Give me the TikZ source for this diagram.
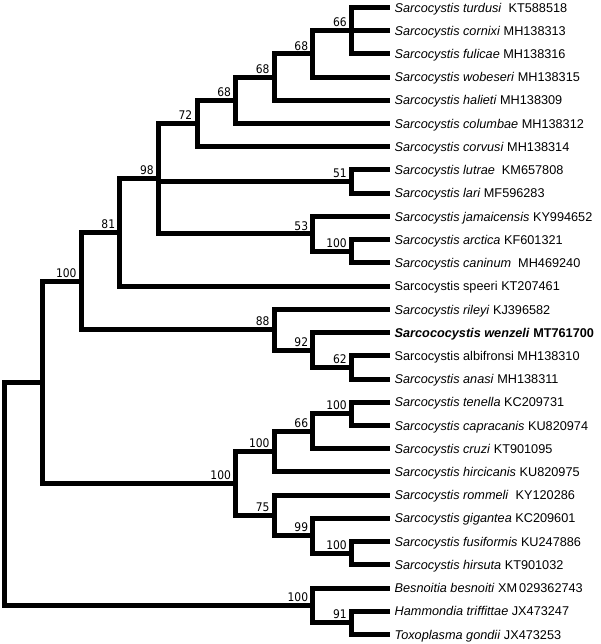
\documentclass[tikz,border=0pt]{standalone}
\usepackage{fontspec}
\setmainfont[Scale=1.27]{Liberation Sans}
\newfontfamily\bsfont[Scale=1.19]{DejaVu Sans Condensed}
\begin{document}
\begin{tikzpicture}[x=1pt,y=-1pt,
  branch/.style={line width=5pt, line cap=butt, line join=miter, black},
  leaf/.style={anchor=base west, inner sep=0pt, font=\normalfont, yshift=-4.6pt},
  bs/.style={anchor=south east, inner sep=0pt, font=\bsfont, xshift=-4.5pt, yshift=3.5pt}]
\useasboundingbox (0,0) rectangle (601,644);
% leaf tips
\foreach \i/\y in {0/7.5,1/30.7,2/53.9,3/77.2,4/100.4,5/123.6,6/146.8,7/170.0,8/193.3,9/216.5,10/239.7,11/262.9,12/286.1,13/309.4,14/332.6,15/355.8,16/379.0,17/402.2,18/425.4,19/448.7,20/471.9,21/495.1,22/518.3,23/541.5,24/564.8,25/588.0,26/611.2,27/634.4}
  \coordinate (t\i) at (390,\y);
% internal nodes
\coordinate (n66) at (351.4,30.7);
\coordinate (n68a) at (312.8,53.95);
\coordinate (n68b) at (274.2,77.2);
\coordinate (n68c) at (235.6,100.4);
\coordinate (n72) at (197,123.6);
\coordinate (n51) at (351.4,181.6);
\coordinate (n100a) at (351.4,251.3);
\coordinate (n53) at (312.8,233.9);
\coordinate (nD) at (158.4,178.8);
\coordinate (nC) at (119.8,232.4);
\coordinate (n62) at (351.4,367.4);
\coordinate (n92) at (312.8,350);
\coordinate (n88) at (274.2,329.7);
\coordinate (nB) at (81.2,281);
\coordinate (n100t) at (351.4,413.8);
\coordinate (n66c) at (312.8,431.2);
\coordinate (n100u) at (274.2,451.5);
\coordinate (n100f) at (351.4,553.1);
\coordinate (n99) at (312.8,535.7);
\coordinate (n75) at (274.2,515.4);
\coordinate (nCy) at (235.6,483.4);
\coordinate (nA) at (42.6,382.2);
\coordinate (n91) at (351.4,622.8);
\coordinate (nOut) at (312.8,605.4);
\coordinate (root) at (4,493.8);
% branches
\foreach \p/\c in {n66/t0,n66/t1,n66/t2,n68a/n66,n68a/t3,n68b/n68a,n68b/t4,n68c/n68b,n68c/t5,n72/n68c,n72/t6,
  n51/t7,n51/t8,n100a/t10,n100a/t11,n53/t9,n53/n100a,nD/n72,nD/n51,nD/n53,nC/nD,nC/t12,
  n62/t15,n62/t16,n92/t14,n92/n62,n88/t13,n88/n92,nB/nC,nB/n88,
  n100t/t17,n100t/t18,n66c/n100t,n66c/t19,n100u/n66c,n100u/t20,n100f/t23,n100f/t24,n99/t22,n99/n100f,
  n75/t21,n75/n99,nCy/n100u,nCy/n75,nA/nB,nA/nCy,n91/t26,n91/t27,nOut/t25,nOut/n91,root/nA,root/nOut}
  \draw[branch] (\p) |- (\c);
% support values
\foreach \n/\v in {n66/66,n68a/68,n68b/68,n68c/68,n72/72,n51/51,n100a/100,n53/53,nD/98,nC/81,n62/62,n92/92,n88/88,nB/100,
  n100t/100,n66c/66,n100u/100,n100f/100,n99/99,n75/75,nCy/100,n91/91,nOut/100}
  \node[bs] (b\n) at (\n) {\v};
% leaf labels
\node[leaf] (l0) at (394.5,7.5) {\textit{Sarcocystis turdusi}\ \ KT588518};
\node[leaf] (l1) at (394.5,30.7) {\textit{Sarcocystis cornixi} MH138313};
\node[leaf] (l2) at (394.5,53.9) {\textit{Sarcocystis fulicae} MH138316};
\node[leaf] (l3) at (394.5,77.2) {\textit{Sarcocystis wobeseri} MH138315};
\node[leaf] (l4) at (394.5,100.4) {\textit{Sarcocystis halieti} MH138309};
\node[leaf] (l5) at (394.5,123.6) {\textit{Sarcocystis columbae} MH138312};
\node[leaf] (l6) at (394.5,146.8) {\textit{Sarcocystis corvusi} MH138314};
\node[leaf] (l7) at (394.5,170.0) {\textit{Sarcocystis lutrae}\ \ KM657808};
\node[leaf] (l8) at (394.5,193.3) {\textit{Sarcocystis lari} MF596283};
\node[leaf] (l9) at (394.5,216.5) {\textit{Sarcocystis jamaicensis} KY994652};
\node[leaf] (l10) at (394.5,239.7) {\textit{Sarcocystis arctica} KF601321};
\node[leaf] (l11) at (394.5,262.9) {\textit{Sarcocystis caninum}\ \ MH469240};
\node[leaf] (l12) at (394.5,286.1) {Sarcocystis speeri KT207461};
\node[leaf] (l13) at (394.5,309.4) {\textit{Sarcocystis rileyi} KJ396582};
\node[leaf] (l14) at (394.5,332.6) {\textbf{\textit{Sarcococystis wenzeli} MT761700}};
\node[leaf] (l15) at (394.5,355.8) {Sarcocystis albifronsi MH138310};
\node[leaf] (l16) at (394.5,379.0) {\textit{Sarcocystis anasi} MH138311};
\node[leaf] (l17) at (394.5,402.2) {\textit{Sarcocystis tenella} KC209731};
\node[leaf] (l18) at (394.5,425.4) {\textit{Sarcocystis capracanis} KU820974};
\node[leaf] (l19) at (394.5,448.7) {\textit{Sarcocystis cruzi} KT901095};
\node[leaf] (l20) at (394.5,471.9) {\textit{Sarcocystis hircicanis} KU820975};
\node[leaf] (l21) at (394.5,495.1) {\textit{Sarcocystis rommeli}\ \ KY120286};
\node[leaf] (l22) at (394.5,518.3) {\textit{Sarcocystis gigantea} KC209601};
\node[leaf] (l23) at (394.5,541.5) {\textit{Sarcocystis fusiformis} KU247886};
\node[leaf] (l24) at (394.5,564.8) {\textit{Sarcocystis hirsuta} KT901032};
\node[leaf] (l25) at (394.5,588.0) {\textit{Besnoitia besnoiti} XM\,029362743};
\node[leaf] (l26) at (394.5,611.2) {\textit{Hammondia triffittae} JX473247};
\node[leaf] (l27) at (394.5,634.4) {\textit{Toxoplasma gondii} JX473253};
\end{tikzpicture}
\end{document}
